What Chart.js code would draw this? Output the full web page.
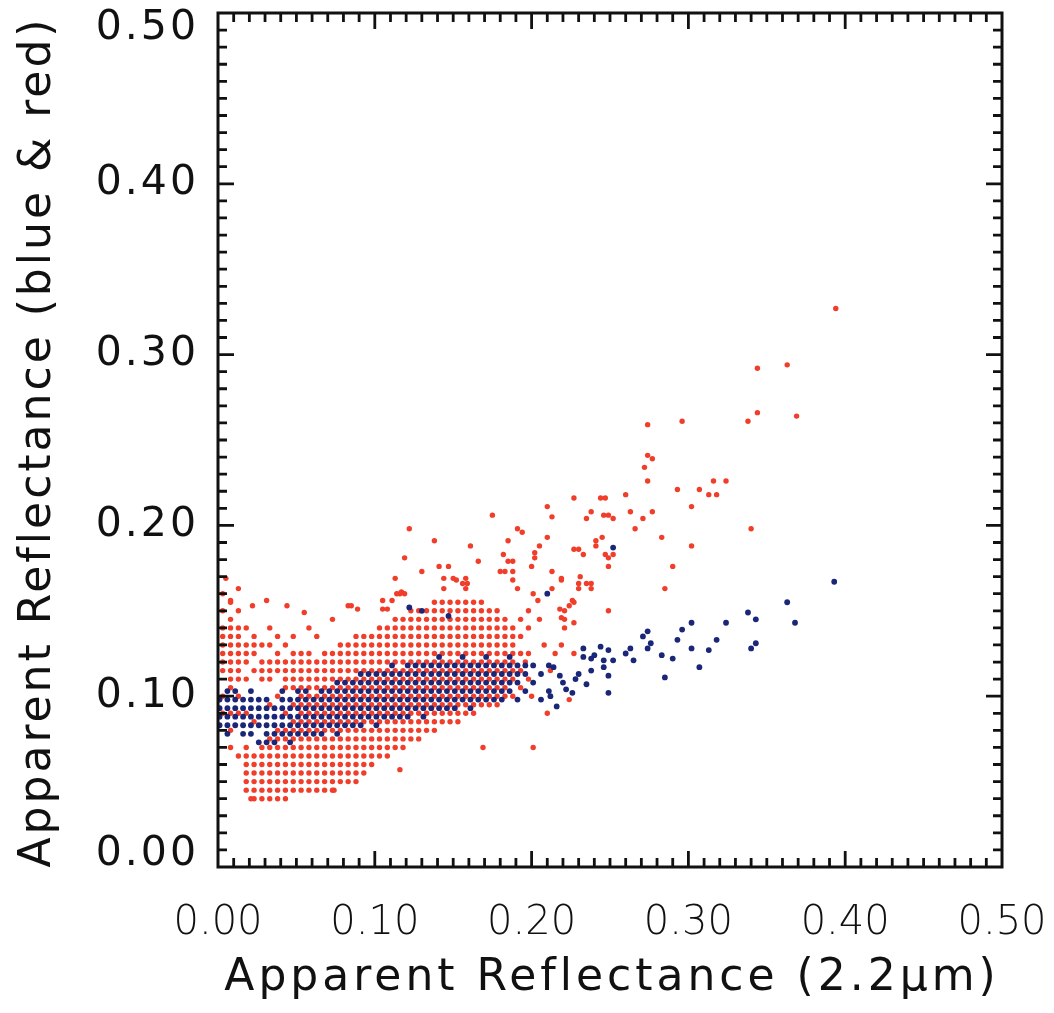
<!DOCTYPE html>
<html>
<head>
<meta charset="utf-8">
<script src="https://cdn.jsdelivr.net/npm/chart.js@4.4.1/dist/chart.umd.min.js"></script>
<style>
  html, body { margin: 0; padding: 0; background: #fff; }
  #wrap { width: 1054px; height: 1013px; }
</style>
</head>
<body>
<div id="wrap"><canvas id="scatter" width="1054" height="1013"></canvas></div>
<script>
// ===============================
// DATA (values in thousandths of reflectance)
// ===============================
const xTicks = [0, 0.1, 0.2, 0.3, 0.4, 0.5];
const yTicks = [0, 0.1, 0.2, 0.3, 0.4, 0.5];
const xTitle = "Apparent Reflectance (2.2μm)";
const yTitle = "Apparent Reflectance (blue & red)";

// red band: dense columns (x) and the y values found in each column
const redColX = [3, 8, 13, 18, 23, 28, 33, 38, 43, 48, 53, 58, 63, 68, 73, 78, 83, 88, 93, 98,
  103, 108, 113, 118, 123, 128, 133, 138, 143, 148, 153, 158, 163, 168, 173, 178, 183, 188, 193, 198];
const redColY = [
  [90, 100, 115, 120, 125, 130, 135, 140, 150, 160],
  [70, 80, 90, 105, 110, 115, 120, 125, 130, 135, 140, 145, 155],
  [65, 90, 100, 110, 115, 120, 125, 130, 135, 140, 150],
  [45, 50, 55, 60, 65, 70, 90, 110, 120, 125, 130, 140],
  [40, 45, 50, 55, 60, 65, 85, 115, 125, 130, 135],
  [40, 45, 50, 55, 60, 65, 70, 110, 115, 120, 130],
  [40, 45, 50, 55, 60, 65, 70, 75, 95, 110, 115, 120, 130, 140],
  [40, 45, 50, 55, 60, 65, 70, 75, 80, 100, 115, 120, 125, 135],
  [40, 45, 50, 55, 60, 65, 70, 75, 80, 90, 105, 110, 115, 120, 130],
  [45, 50, 55, 60, 65, 70, 75, 80, 85, 95, 105, 110, 115, 120, 125, 135],
  [45, 50, 55, 60, 65, 70, 75, 80, 85, 90, 95, 100, 105, 110, 115, 120, 125],
  [45, 50, 55, 60, 65, 70, 75, 80, 85, 90, 95, 100, 105, 110, 115, 120, 125, 140],
  [45, 50, 55, 60, 65, 70, 75, 80, 85, 90, 95, 100, 105, 110, 115, 120, 135],
  [45, 50, 55, 60, 65, 70, 75, 80, 85, 90, 95, 100, 105, 110, 115, 120, 125],
  [45, 50, 55, 60, 65, 70, 75, 80, 85, 90, 95, 100, 105, 110, 115, 120, 125, 145],
  [50, 55, 60, 65, 70, 75, 80, 85, 90, 95, 100, 105, 110, 115, 120, 125, 130],
  [50, 55, 60, 65, 70, 75, 80, 85, 90, 95, 100, 105, 110, 115, 120, 125, 130],
  [50, 55, 60, 65, 70, 75, 80, 85, 90, 95, 100, 105, 110, 115, 120, 125, 130, 135],
  [55, 60, 65, 70, 75, 80, 85, 90, 95, 100, 105, 110, 115, 120, 125, 130, 135],
  [60, 65, 70, 75, 80, 85, 90, 95, 100, 105, 110, 115, 120, 125, 130, 135],
  [65, 70, 75, 80, 85, 90, 95, 100, 105, 110, 115, 120, 125, 130, 135, 140],
  [65, 70, 75, 80, 85, 90, 95, 100, 105, 110, 115, 120, 125, 130, 135, 140],
  [70, 75, 80, 85, 90, 95, 100, 105, 110, 115, 120, 125, 130, 135, 140, 145],
  [70, 75, 80, 85, 90, 95, 100, 105, 110, 115, 120, 125, 130, 135, 140, 145],
  [75, 80, 85, 90, 95, 100, 105, 110, 115, 120, 125, 130, 135, 140, 145, 150],
  [75, 80, 85, 90, 95, 100, 105, 110, 115, 120, 125, 130, 135, 140, 145, 150],
  [80, 85, 90, 95, 100, 105, 110, 115, 120, 125, 130, 135, 140, 145, 150],
  [80, 85, 90, 95, 100, 105, 110, 115, 120, 125, 130, 135, 140, 145, 150, 155],
  [85, 90, 95, 100, 105, 110, 115, 120, 125, 130, 135, 140, 145, 150, 155],
  [85, 90, 95, 100, 105, 110, 115, 120, 125, 130, 135, 140, 145, 150, 155],
  [85, 90, 95, 100, 105, 110, 115, 120, 125, 130, 135, 140, 145, 150, 155],
  [90, 95, 100, 105, 110, 115, 120, 125, 130, 135, 140, 145, 150, 155],
  [90, 95, 100, 105, 110, 115, 120, 125, 130, 135, 140, 145, 150, 155],
  [95, 100, 105, 110, 115, 120, 125, 130, 135, 140, 145, 150, 155],
  [95, 100, 105, 110, 115, 120, 125, 130, 135, 140, 145, 150],
  [95, 100, 105, 110, 115, 120, 125, 130, 135, 140, 145, 150],
  [100, 105, 110, 115, 120, 125, 130, 135, 140, 145],
  [100, 110, 115, 120, 125, 130, 135, 140],
  [105, 115, 125, 135, 145],
  [110, 125, 140]
];
// red band: scattered points outside the dense cloud [x, y]
const redOut = [
  [394, 327], [363, 294], [344, 292], [344, 266], [338, 261], [369, 264], [316, 226], [324, 226],
  [307, 221], [313, 218], [318, 218], [340, 198], [274, 259], [296, 261], [274, 241], [277, 239],
  [272, 234], [274, 226], [293, 221], [227, 216], [244, 216], [247, 216], [260, 218], [210, 211],
  [302, 211], [238, 208], [263, 208], [277, 208], [213, 205], [246, 206], [249, 206], [235, 204],
  [252, 204], [271, 204], [266, 198], [210, 193], [241, 191], [241, 188], [245, 193], [283, 193],
  [302, 188], [227, 186], [230, 186], [233, 183], [247, 183], [252, 183], [249, 181], [249, 176],
  [290, 176], [213, 173], [219, 168], [213, 163], [231, 170], [230, 166], [235, 166], [238, 166],
  [230, 163], [238, 163], [285, 163], [227, 155], [224, 153], [221, 150], [249, 150], [221, 145],
  [219, 146], [221, 140], [227, 143], [219, 130], [215, 125], [227, 125], [210, 90], [224, 98],
  [175, 206], [122, 198], [138, 191], [161, 188], [191, 198], [194, 196], [205, 188], [182, 183],
  [185, 191], [166, 179], [202, 184], [202, 181], [119, 181], [141, 176], [147, 176], [180, 173],
  [183, 173], [188, 173], [185, 179], [188, 179], [200, 176], [130, 173], [113, 169], [5, 169],
  [13, 163], [8, 156], [22, 153], [31, 156], [44, 153], [55, 149], [83, 153], [85, 153],
  [89, 151], [105, 156], [111, 156], [114, 160], [116, 160], [119, 160], [105, 151], [108, 151],
  [152, 168], [159, 166], [156, 166], [188, 168], [117, 161], [191, 163], [201, 160], [204, 156],
  [144, 169], [150, 169], [158, 169], [144, 163], [158, 163], [219, 169], [226, 156], [218, 151],
  [169, 70], [201, 70], [116, 57], [74, 45], [21, 40], [198, 150], [205, 145], [196, 120],
  [208, 130], [212, 115], [200, 100]
];

// blue band: dense columns and scattered points
const blueColX = [1, 6, 11, 16, 21, 26, 31, 36, 41, 46, 51, 56, 61, 66, 71, 76, 81, 86, 91, 96,
  101, 106, 111, 116, 121, 126, 131, 136, 141, 146, 151, 156, 161, 166, 171, 176, 181, 186, 191, 196,
  201, 206, 211];
const blueColY = [
  [83, 88, 93, 98],
  [78, 83, 88, 93, 98, 103],
  [83, 88, 93, 98, 103],
  [78, 83, 88, 93, 98],
  [78, 83, 88, 93, 98, 103],
  [73, 83, 88, 93, 98],
  [73, 78, 83, 88, 93, 98],
  [73, 78, 83, 88, 93],
  [78, 83, 88, 93, 98, 103],
  [73, 78, 83, 88, 93, 98],
  [78, 83, 88, 93, 98, 103],
  [78, 83, 88, 93, 98, 103],
  [78, 83, 88, 93, 98],
  [78, 83, 88, 93, 98, 103],
  [83, 88, 93, 98, 103],
  [78, 83, 88, 93, 98, 103, 108],
  [83, 88, 93, 98, 103, 108],
  [83, 88, 93, 98, 103, 108],
  [83, 88, 93, 98, 103, 108, 113],
  [88, 93, 98, 103, 108, 113],
  [83, 88, 93, 98, 103, 108, 113],
  [88, 93, 98, 103, 108, 113],
  [88, 93, 98, 103, 108, 113, 118],
  [88, 93, 98, 103, 108, 113],
  [88, 93, 98, 103, 108, 113, 118],
  [93, 98, 103, 108, 113, 118],
  [88, 93, 98, 103, 108, 113, 118],
  [93, 98, 103, 108, 113, 118],
  [93, 98, 103, 108, 113, 118, 123],
  [93, 98, 103, 108, 113, 118],
  [93, 98, 103, 108, 113, 118],
  [98, 103, 108, 113, 118, 123],
  [93, 98, 103, 108, 113, 118],
  [98, 103, 108, 113, 118],
  [98, 103, 108, 113, 118, 123],
  [98, 103, 108, 113, 118],
  [98, 103, 108, 113, 118],
  [103, 108, 113, 118, 123],
  [98, 108, 113, 118],
  [103, 113, 118],
  [108, 118],
  [98, 113],
  [103, 118]
];
const blueOut = [
  [252, 187], [210, 160], [130, 150], [147, 147], [122, 152], [302, 143], [324, 143], [296, 139],
  [274, 138], [271, 135], [276, 131], [293, 133], [318, 133], [343, 131], [340, 128], [338, 149],
  [343, 145], [302, 128], [313, 127], [263, 128], [260, 125], [274, 128], [233, 128], [244, 129],
  [249, 127], [238, 122], [246, 121], [252, 121], [265, 121], [283, 124], [290, 122], [307, 117],
  [285, 111], [246, 117], [249, 112], [238, 115], [230, 113], [235, 107], [218, 112], [222, 104],
  [226, 102], [214, 117], [216, 94], [249, 102], [393, 167], [363, 155], [368, 143], [233, 123],
  [220, 108], [228, 110], [212, 100], [240, 124]
];

// ===============================
// BUILD POINTS
// ===============================
function buildPoints(colX, colY, extra){
  let pts = [];
  colX.forEach((x, i) => {
    colY[i].forEach(y => pts.push({x: x / 1000, y: y / 1000}));
  });
  extra.forEach(p => pts.push({x: p[0] / 1000, y: p[1] / 1000}));
  return pts;
}

const redPoints = buildPoints(redColX, redColY, redOut);
const bluePoints = buildPoints(blueColX, blueColY, blueOut);

// ===============================
// FRAME, INWARD TICKS, Y LABELS AND TITLES
// ===============================
const frameTicks = {
  id: "frameTicks",
  afterDatasetsDraw(chart){
    const ctx = chart.ctx;
    const a = chart.chartArea;
    const xs = chart.scales.x;
    const ys = chart.scales.y;

    ctx.save();
    ctx.strokeStyle = "#111";
    ctx.lineCap = "butt";
    ctx.lineWidth = 2.8;
    ctx.beginPath();
    for(let i = 1; i < 50; i++){
      let v = i / 100;
      let len = (i % 10 === 0) ? 16 : 9;
      let px = xs.getPixelForValue(v);
      let py = ys.getPixelForValue(v);
      ctx.moveTo(px, a.bottom); ctx.lineTo(px, a.bottom - len);
      ctx.moveTo(px, a.top);    ctx.lineTo(px, a.top + len);
      ctx.moveTo(a.left, py);   ctx.lineTo(a.left + len, py);
      ctx.moveTo(a.right, py);  ctx.lineTo(a.right - len, py);
    }
    ctx.stroke();

    ctx.lineWidth = 3;
    ctx.strokeRect(a.left, a.top, a.right - a.left, a.bottom - a.top);
    ctx.restore();
  },
  afterDraw(chart){
    const ctx = chart.ctx;
    const a = chart.chartArea;
    const ys = chart.scales.y;

    ctx.save();
    ctx.fillStyle = "#111";

    // y tick labels, end labels kept inside the frame like the original
    ctx.font = "41px 'DejaVu Sans'";
    ctx.letterSpacing = "3px";
    ctx.textAlign = "right";
    ctx.textBaseline = "middle";
    yTicks.forEach(v => {
      let py = ys.getPixelForValue(v);
      py = Math.min(Math.max(py, a.top + 15), a.bottom - 13);
      ctx.fillText(v.toFixed(2), a.left - 19, py);
    });

    // axis titles
    ctx.font = "44px 'DejaVu Sans'";
    ctx.textAlign = "center";
    ctx.textBaseline = "alphabetic";
    ctx.letterSpacing = "4px";
    ctx.fillText(xTitle, (a.left + a.right) / 2 + 2, 990);

    ctx.letterSpacing = "3px";
    ctx.translate(50, (a.top + a.bottom) / 2 + 2);
    ctx.rotate(-Math.PI / 2);
    ctx.fillText(yTitle, 0, 0);
    ctx.restore();
  }
};

// ===============================
// CHART
// ===============================
const ctx = document.getElementById("scatter").getContext("2d");

new Chart(ctx, {
  type: "scatter",
  data: {
    datasets: [
      {
        label: "blue",
        data: bluePoints,
        backgroundColor: "rgb(26,38,120)",
        borderWidth: 0,
        pointRadius: 2.9,
        order: 0
      },
      {
        label: "red",
        data: redPoints,
        backgroundColor: "rgb(240,62,42)",
        borderWidth: 0,
        pointRadius: 2.7,
        order: 1
      }
    ]
  },
  options: {
    responsive: false,
    animation: false,
    layout: { padding: { top: 13, right: 52, left: 0, bottom: 0 } },
    plugins: {
      legend: { display: false },
      tooltip: { enabled: false }
    },
    scales: {
      x: {
        type: "linear",
        min: xTicks[0],
        max: xTicks[xTicks.length - 1],
        afterFit: s => { s.height = 146; s.paddingLeft = 0; s.paddingRight = 0; },
        afterBuildTicks: s => { s.ticks = xTicks.map(v => ({value: v})); },
        grid: { display: false, drawTicks: false },
        border: { display: false },
        ticks: {
          padding: 33,
          color: "#111",
          font: { family: "DejaVu Sans", size: 40, weight: "300" },
          callback: v => v.toFixed(2)
        },
        title: { display: false }
      },
      y: {
        type: "linear",
        min: yTicks[0],
        max: yTicks[yTicks.length - 1],
        afterFit: s => { s.width = 218; s.paddingTop = 0; s.paddingBottom = 0; },
        afterBuildTicks: s => { s.ticks = yTicks.map(v => ({value: v})); },
        grid: { display: false, drawTicks: false },
        border: { display: false },
        ticks: { display: false },
        title: { display: false }
      }
    }
  },
  plugins: [frameTicks]
});
</script>
</body>
</html>
